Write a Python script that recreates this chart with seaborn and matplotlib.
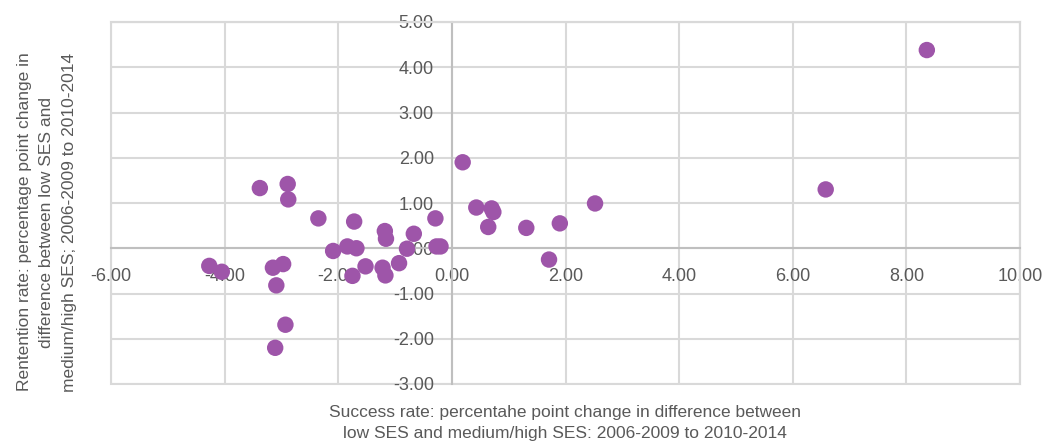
import matplotlib
matplotlib.use("Agg")
import matplotlib.pyplot as plt
import seaborn as sns
import pandas as pd
from matplotlib.ticker import FormatStrFormatter, MultipleLocator

success_change = [0.19, -3.38, -2.89, -2.88, -2.35, -1.72, -1.18, -1.16, -0.67, -0.29,
                  -0.27, -0.20, -0.79, -2.09, -1.84, -1.68, -1.52, -1.75, -1.22, -1.17,
                  -0.93, -4.27, -4.05, -3.15, -2.97, -3.09, -2.93, -3.11, 0.43, 0.70,
                  0.73, 0.64, 1.31, 1.90, 2.52, 1.71, 6.58, 8.36]
retention_change = [1.90, 1.33, 1.42, 1.08, 0.66, 0.59, 0.38, 0.21, 0.32, 0.66,
                    0.04, 0.04, -0.01, -0.06, 0.04, 0.00, -0.40, -0.61, -0.43, -0.60,
                    -0.33, -0.39, -0.52, -0.43, -0.35, -0.82, -1.69, -2.20, 0.90, 0.88,
                    0.80, 0.47, 0.45, 0.55, 0.99, -0.25, 1.30, 4.38]

x_label = ("Success rate: percentahe point change in difference between\n"
           "low SES and medium/high SES: 2006-2009 to 2010-2014")
y_label = ("Rentention rate: percentage point change in\n"
           "difference between low SES and\n"
           "medium/high SES; 2006-2009 to 2010-2014")

sns.set_style("white")
plt.rcParams["font.family"] = ["Liberation Sans", "DejaVu Sans"]

text_color = "#595959"
grid_color = "#d9d9d9"
axis_color = "#bfbfbf"
point_color = "#9e55a9"

df = pd.DataFrame({"success": success_change, "retention": retention_change})

fig = plt.figure(figsize=(10.44, 4.45), dpi=100)
ax = fig.add_axes([111 / 1044, 1 - 384 / 445, (1020 - 111) / 1044, (384 - 22) / 445])

sns.scatterplot(data=df, x="success", y="retention", ax=ax, color=point_color,
                s=140, edgecolor="none", linewidth=0, zorder=5, clip_on=False)

ax.set_xlim(-6, 10)
ax.set_ylim(-3, 5)
ax.xaxis.set_major_locator(MultipleLocator(2))
ax.yaxis.set_major_locator(MultipleLocator(1))
ax.xaxis.set_major_formatter(FormatStrFormatter("%.2f"))
ax.yaxis.set_major_formatter(FormatStrFormatter("%.2f"))

ax.grid(True, color=grid_color, linewidth=1.5, zorder=0)
ax.set_axisbelow(True)

ax.spines["left"].set_position(("data", 0))
ax.spines["bottom"].set_position(("data", 0))
for s in ["left", "bottom"]:
    ax.spines[s].set_color(axis_color)
    ax.spines[s].set_linewidth(1.5)
for s in ["top", "right"]:
    ax.spines[s].set_color(grid_color)
    ax.spines[s].set_linewidth(1.5)
ax.patch.set_edgecolor(grid_color)
ax.patch.set_linewidth(1.5)

ax.tick_params(axis="x", length=0, pad=14, labelsize=13, labelcolor=text_color)
ax.tick_params(axis="y", length=0, pad=13, labelsize=13, labelcolor=text_color)

ax.set_xlabel("")
ax.set_ylabel("")

fig.text(565 / 1044, 1 - 423 / 445, x_label, ha="center", va="center",
         fontsize=12.5, color=text_color, linespacing=1.45)
fig.text(47 / 1044, 1 - 222 / 445, y_label, ha="center", va="center",
         rotation=90, fontsize=12.5, color=text_color, linespacing=1.65,
         multialignment="center")

fig.savefig("out.png", dpi=100)
